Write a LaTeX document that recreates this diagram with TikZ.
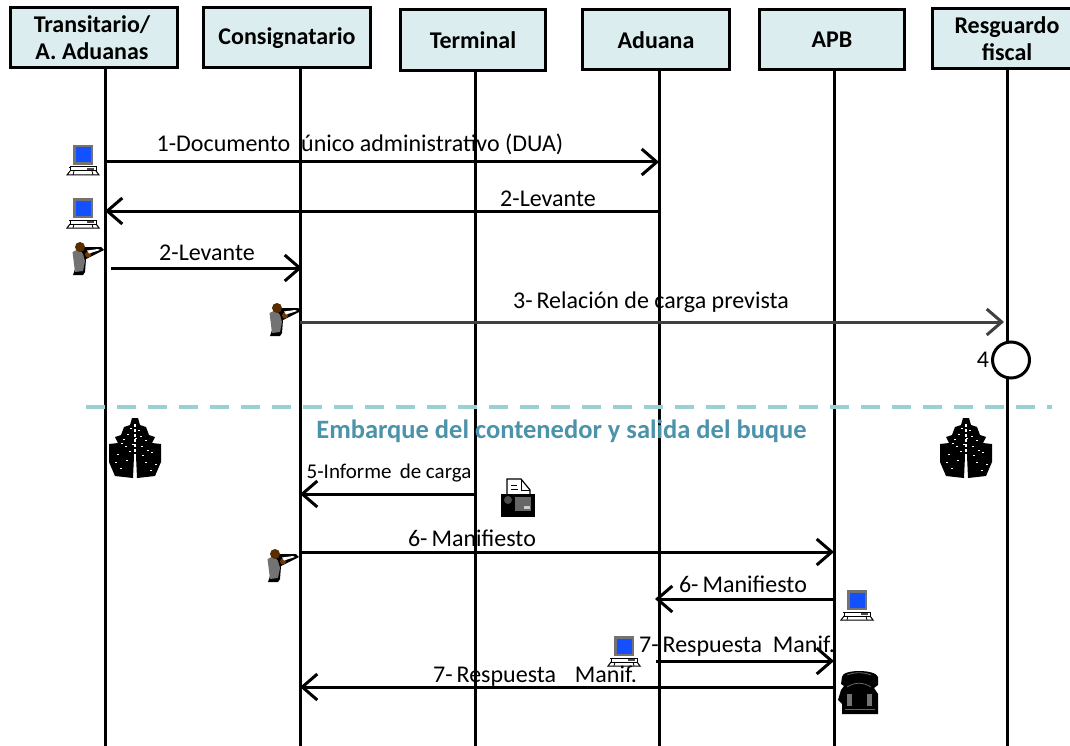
\documentclass[tikz,border=0pt]{standalone}
\usepackage{fontspec}
\setmainfont{Carlito}
\usetikzlibrary{arrows.meta,shapes.geometric}
\definecolor{boxfill}{HTML}{DBEDEE}
\definecolor{dashc}{HTML}{9BD0D2}
\definecolor{headc}{HTML}{4B92AB}
\definecolor{dgray}{HTML}{404040}
\definecolor{scr}{HTML}{1450FF}
\tikzset{
 actor/.style={draw=black,line width=3pt,fill=boxfill,anchor=center,align=center,font=\fontsize{24}{27}\selectfont\bfseries,inner sep=0pt},
 lifeline/.style={line width=3pt,black},
 msg/.style={line width=3pt,black,-{Straight Barb[length=15pt,width=26pt,line width=3pt]}},
 lbl/.style={font=\fontsize{24}{28}\selectfont,inner sep=0pt,text=black},
 pics/computer/.style={code={
  \fill[black!55] (-10,-14) rectangle (10,6);
  \fill[scr] (-7.5,-11.5) rectangle (7.5,3.5);
  \fill[black] (-14,8) -- (14,8) -- (14,9) -- (-14,9) -- cycle;
  \draw[black,line width=1pt,fill=white] (-13,8) rectangle (13,12);
  \fill[black!70] (4,9) rectangle (11,11);
  \draw[black,line width=1pt] (-13,12) -- (-16,16) -- (16,16) -- (13,12);
  \draw[black,line width=.8pt] (-9,12) -- (-10,16) (9,12) -- (10,16);
 }},
 pics/person/.style={code={
  \fill[black] (-1,-9) -- (4,-11) -- (21,-11) -- (24,-8) -- (12,-2) -- (6,1) -- (5,14) -- (3,17) -- (-7,17) -- (-4,8) -- cycle;
  \fill[black!55] (-7.5,-6) .. controls (-3,-9) and (1,-8) .. (3,-4) -- (5,3) -- (3,13) -- (-5,14) -- cycle;
  \fill[black!65!orange] (0,-11) circle (5);
  \fill[black!55!orange] (8,-3.5) circle (3);
  \fill[white] (7,-7.5) -- (18,-9) -- (20,-8) -- (9,-4.5) -- cycle;
 }},
 pics/ship/.style={code={
  \fill[black] (-3,-30) -- (3,-30) -- (5,-23) -- (11,-21) -- (14,-13) -- (20,-11) -- (17,-5) -- (26,-4) -- (26,14) -- (20,28) -- (2,30) -- (1,8) -- (-1,8) -- (-2,30) -- (-20,28) -- (-26,14) -- (-26,-4) -- (-17,-5) -- (-20,-11) -- (-14,-13) -- (-11,-21) -- (-5,-23) -- cycle;
  \foreach \p in {(-8,-14),(3,-18),(10,-8),(-14,-5),(-3,-4),(6,-2),(-18,6),(16,4),(-9,12),(10,14),(0,-10),(-20,14),(20,16),(-12,-9),(14,-14),(-5,-20),(5,-12),(-10,-2),(12,2),(-15,20),(15,22),(-6,3),(7,7)}
   \fill[white] \p rectangle ++(2,1.4);
  \draw[white,line width=1.2pt,densely dashed] (0,-24) -- (0,28);
 }},
 pics/printer/.style={code={
  \draw[black,line width=1.2pt,fill=white] (-11,-20) -- (3,-20) -- (12,-9) -- (12,-4) -- (-11,-4) -- cycle;
  \draw[black,line width=1pt] (3,-20) -- (3,-9) -- (12,-9) (-7,-14) -- (-1,-14) (-7,-10) -- (0,-10);
  \fill[black] (-17,-5) rectangle (17,18);
  \fill[black!60] (-3,-2) rectangle (13,12);
  \fill[black!70] (-10,1) circle (4);
  \fill[black!20] (6,7) rectangle (12,10);
 }},
 pics/phone/.style={code={
  \fill[black] (-17,-15) .. controls (-17,-23) and (17,-23) .. (19,-15) -- (19,-7) -- (15,-4) -- (19,2) -- (19,22) -- (-17,22) -- (-17,12) -- (-21,8) -- (-18,-2) -- (-15,-6) -- (-18,-8) -- cycle;
  \draw[black!60,line width=.8pt] (-12,-17) .. controls (-4,-20) and (4,-20) .. (12,-17)
   (-12,-5) .. controls (-4,-10) and (4,-10) .. (12,-5);
  \fill[black!55] (-12,2) rectangle (-7,14);
  \fill[black!55] (8,2) rectangle (13,14);
  \draw[black!60,line width=.8pt] (-14,17) -- (16,17);
 }},
}
\begin{document}
\begin{tikzpicture}[x=1pt,y=-1pt]
\useasboundingbox (0,0) rectangle (1070,746);
\fill[white] (0,0) rectangle (1070,746);
% lifelines
\coordinate (L1) at (105,40);
\coordinate (L2) at (300,40);
\coordinate (L3) at (475,40);
\coordinate (L4) at (659,40);
\coordinate (L5) at (834,40);
\coordinate (L6) at (1007,40);
\foreach \n in {1,...,6} \draw[lifeline] (L\n) -- (L\n |- 0,746);
% actors
\node[actor,minimum width=167pt,minimum height=60pt] (a1) at (94,38) {\hspace*{-4pt}Transitario/\\\hspace*{-4pt}A. Aduanas};
\node[actor,minimum width=167pt,minimum height=60pt] (a2) at (287,38) {Consignatario};
\node[actor,minimum width=145pt,minimum height=61pt] (a3) at (473,40) {Terminal};
\node[actor,minimum width=147pt,minimum height=60pt] (a4) at (656,40) {Aduana};
\node[actor,minimum width=145pt,minimum height=60pt] (a5) at (832,40) {APB};
\node[actor,minimum width=150pt,minimum height=60pt] (a6) at (1007,39) {Resguardo\\fiscal};
% messages
\coordinate (m6e) at (655,599);
\coordinate (m7s) at (656,661);
\coordinate (m2s) at (111,268);
\coordinate (m2e) at (302,268);
\coordinate (m3e) at (1004,322);
\draw[msg] (L1 |- 0,162) -- (L4 |- 0,162);
\draw[msg] (L4 |- 0,211) -- (L1 |- 0,211);
\draw[msg] (m2s) -- (m2e);
\draw[msg,dgray,-{Straight Barb[length=15pt,width=26pt,line width=3pt]}] (L2 |- 0,322) -- (m3e);
\draw[msg] (L3 |- 0,494) -- (L2 |- 0,494);
\draw[msg] (L2 |- 0,552) -- (L5 |- 0,552);
\draw[msg] (L5 |- 0,599) -- (m6e);
\draw[msg] (m7s) -- (L5 |- 0,661);
\draw[msg] (L5 |- 0,687) -- (L2 |- 0,687);
% state
\node[draw=black,line width=3pt,fill=white,ellipse,minimum width=37pt,minimum height=36pt,inner sep=0pt] (s4) at (1011,360) {};
\node[lbl] (n4) at (983,360) {4};
% divider
\coordinate (d1) at (86,407);
\coordinate (d2) at (1052,407);
\draw[dashc,line width=4.5pt,dash pattern=on 19pt off 12pt] (d1) -- (d2);
\node[font=\fontsize{26.5}{30}\selectfont\bfseries,text=headc,inner sep=0pt] (hd) at (561.5,431) {Embarque del contenedor y salida del buque};
% labels
\node[lbl] (t1) at (360,144) {1-Documento\ \ único administrativo (DUA)};
\node[lbl] (t2) at (548,199) {2-Levante};
\node[lbl] (t3) at (207,253) {2-Levante};
\node[lbl] (t4) at (651,302) {3-\,Relación de carga prevista};
\node[lbl,font=\fontsize{21}{24}\selectfont] (t5) at (389,473) {5-Informe\ \,de carga};
\node[lbl] (t6) at (472,538) {6-\,Manifiesto};
\node[lbl] (t7) at (743,584) {6-\,Manifiesto};
\node[lbl] (t8) at (737,646) {7-\,Respuesta\ \ Manif.};
\node[lbl] (t9) at (535,676) {7-\,Respuesta\ \ \,\,Manif.};
% icons
\pic at (83,159) {computer};
\pic at (83,212) {computer};
\pic at (857,604) {computer};
\pic at (624,650) {computer};
\pic at (80,258) {person};
\pic at (277,319) {person};
\pic at (275,565) {person};
\pic at (135,448) {ship};
\pic at (966,448) {ship};
\pic at (518,499) {printer};
\pic at (859,692) {phone};
\end{tikzpicture}
\end{document}
